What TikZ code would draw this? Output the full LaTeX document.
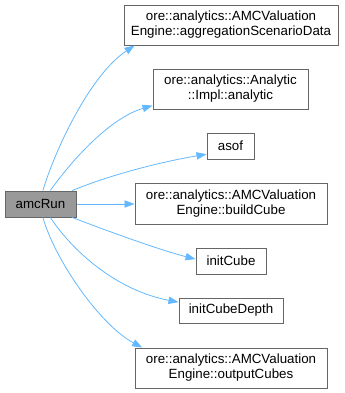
\documentclass[tikz,border=0pt]{standalone}
\usepackage{fontspec}
\setmainfont{Liberation Sans}
\usepackage{tikz}
\usetikzlibrary{arrows.meta}
\definecolor{boxgray}{HTML}{666666}
\definecolor{rootgray}{HTML}{999999}
\definecolor{edgeblue}{HTML}{63B8FF}

\begin{document}
\begin{tikzpicture}[x=0.75pt, y=-0.75pt, >={Triangle[length=7.5pt, width=5.5pt]},
    fn/.style={draw=boxgray, line width=0.75pt, fill=white, inner sep=0pt, align=center,
      font=\fontsize{10}{11.25}\selectfont},
    call/.style={->, draw=edgeblue, fill=none, line width=0.6pt}]
  \useasboundingbox (0,0) rectangle (344,393);

  % caller
  \node[fn, fill=rootgray, minimum width=53.25pt, minimum height=19.5pt] (run) at (40.5,204) {amcRun};

  % callees
  \node[fn, minimum width=160.5pt, minimum height=30pt] (agg) at (231,25)
    {ore::analytics::AMCValuation\\Engine::aggregationScenarioData};
  \node[fn, minimum width=116.25pt, minimum height=30pt] (ana) at (230.5,89)
    {ore::analytics::Analytic\\::Impl::analytic};
  \node[fn, minimum width=35.25pt, minimum height=19.5pt] (asof) at (230.5,146) {asof};
  \node[fn, minimum width=144pt, minimum height=30.75pt] (build) at (231,203.5)
    {ore::analytics::AMCValuation\\Engine::buildCube};
  \node[fn, minimum width=52.5pt, minimum height=19.5pt] (ic) at (231,261) {initCube};
  \node[fn, minimum width=78pt, minimum height=18.75pt] (icd) at (231,310.5) {initCubeDepth};
  \node[fn, minimum width=144pt, minimum height=30pt] (out) at (231,368)
    {ore::analytics::AMCValuation\\Engine::outputCubes};

  % calls
  \draw[call] (run.80) .. controls (55,150) and (90,75) .. (agg.192);
  \draw[call] (run.54) .. controls (72,160) and (110,118) .. (ana.192);
  \draw[call] (run.23) .. controls (110,175) and (160,162) .. (asof.199);
  \draw[call] (run.east) -- (build.west |- run.east);
  \draw[call] (run.-23) .. controls (110,232) and (160,250) .. (ic.177);
  \draw[call] (run.-54) .. controls (72,250) and (115,290) .. (icd.171);
  \draw[call] (run.-80) .. controls (55,260) and (100,325) .. (out.167);
\end{tikzpicture}
\end{document}
